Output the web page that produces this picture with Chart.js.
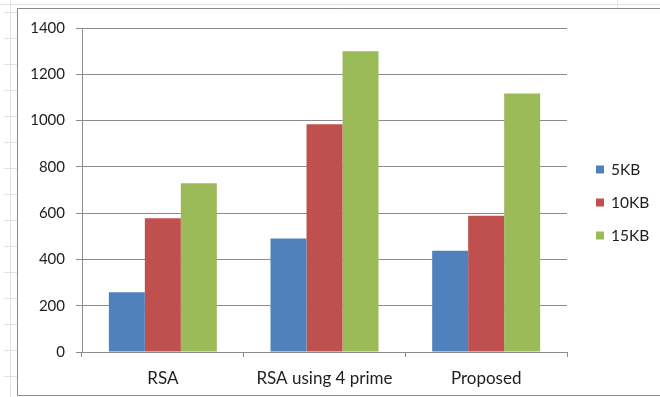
<!DOCTYPE html>
<html>
<head>
<meta charset="utf-8">
<script src="https://cdn.jsdelivr.net/npm/chart.js@4.4.0/dist/chart.umd.min.js"></script>
<style>
  html, body { margin: 0; padding: 0; background: #ffffff; }
  #wrap { width: 660px; height: 397px; position: relative; }
</style>
</head>
<body>
<div id="wrap"><canvas id="chart" width="660" height="397"></canvas></div>
<script>
// Encryption time per method and file size
const categories = ['RSA', 'RSA using 4 prime', 'Proposed'];
const seriesNames = ['5KB', '10KB', '15KB'];
const values5KB  = [258, 490, 438];
const values10KB = [578, 984, 589];
const values15KB = [729, 1300, 1117];
const yTicks = [0, 200, 400, 600, 800, 1000, 1200, 1400];

const colors = ['#4F81BD', '#C0504D', '#9BBB59'];
const gridGray = '#8c8c8c';
const textColor = '#1e1e1e';
const fontFamily = 'Lato, "Open Sans", sans-serif';

// Sheet cell lines and the chart frame behind the plot
const sheetBackdrop = {
  id: 'sheetBackdrop',
  beforeDraw(chart) {
    const ctx = chart.ctx;
    ctx.save();
    ctx.fillStyle = '#ffffff';
    ctx.fillRect(0, 0, chart.width, chart.height);
    ctx.strokeStyle = '#e4e4e4';
    ctx.lineWidth = 1;
    ctx.beginPath();
    ctx.moveTo(10.5, 0); ctx.lineTo(10.5, chart.height);
    ctx.moveTo(0, 4.5); ctx.lineTo(chart.width, 4.5);
    ctx.moveTo(617.5, 0); ctx.lineTo(617.5, 8);
    for (let y = 12; y < chart.height; y += 26) {
      ctx.moveTo(4, y + 0.5); ctx.lineTo(17, y + 0.5);
    }
    ctx.stroke();
    ctx.strokeStyle = '#8a8a8a';
    ctx.beginPath();
    ctx.moveTo(chart.width, 8.5);
    ctx.lineTo(17.5, 8.5);
    ctx.lineTo(17.5, 395.5);
    ctx.lineTo(chart.width, 395.5);
    ctx.stroke();
    ctx.restore();
  }
};

// Right-hand legend with square swatches
const sideLegend = {
  id: 'sideLegend',
  afterDraw(chart) {
    const ctx = chart.ctx;
    ctx.save();
    ctx.font = '15.5px ' + fontFamily;
    ctx.textBaseline = 'middle';
    ctx.textAlign = 'left';
    chart.data.datasets.forEach((ds, i) => {
      const cy = 169.5 + i * 33;
      ctx.fillStyle = ds.backgroundColor;
      ctx.fillRect(596, cy - 4, 8, 8);
      ctx.fillStyle = textColor;
      ctx.fillText(ds.label, 611, cy);
    });
    ctx.restore();
  }
};

new Chart(document.getElementById('chart'), {
  type: 'bar',
  data: {
    labels: categories,
    datasets: [
      { label: seriesNames[0], data: values5KB,  backgroundColor: colors[0] },
      { label: seriesNames[1], data: values10KB, backgroundColor: colors[1] },
      { label: seriesNames[2], data: values15KB, backgroundColor: colors[2] }
    ]
  },
  options: {
    responsive: false,
    animation: false,
    devicePixelRatio: 1,
    categoryPercentage: 0.668,
    barPercentage: 1.0,
    layout: { padding: { left: 0, top: 28, right: 93, bottom: 0 } },
    plugins: {
      legend: { display: false },
      tooltip: { enabled: false }
    },
    scales: {
      x: {
        offset: true,
        grid: {
          offset: true,
          drawOnChartArea: false,
          drawTicks: true,
          tickLength: 5,
          color: gridGray,
          tickColor: gridGray
        },
        border: { display: true, color: gridGray },
        ticks: {
          color: textColor,
          font: { family: fontFamily, size: 17 },
          padding: 11,
          maxRotation: 0
        },
        afterFit(scale) { scale.height = 45; }
      },
      y: {
        min: 0,
        max: 1400,
        afterBuildTicks(scale) { scale.ticks = yTicks.map(v => ({ value: v })); },
        grid: {
          color: gridGray,
          tickColor: gridGray,
          drawTicks: true,
          tickLength: 6
        },
        border: { display: true, color: gridGray },
        ticks: {
          color: textColor,
          font: { family: fontFamily, size: 15 },
          padding: 11,
          callback: (v) => String(v)
        },
        afterFit(scale) { scale.width = 82; }
      }
    }
  },
  plugins: [sheetBackdrop, sideLegend]
});
</script>
</body>
</html>
